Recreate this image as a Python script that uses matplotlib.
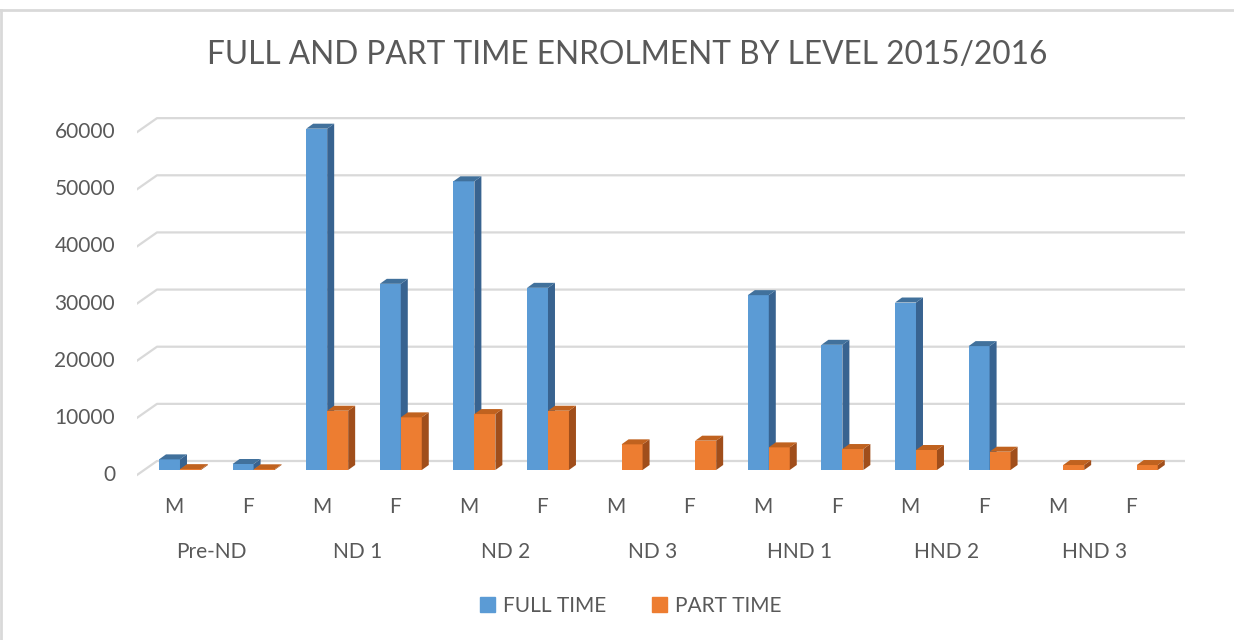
import matplotlib.pyplot as plt
from matplotlib.patches import Patch, Polygon
from matplotlib.lines import Line2D

levels = ['Pre-ND', 'ND 1', 'ND 2', 'ND 3', 'HND 1', 'HND 2', 'HND 3']
sexes = ['M', 'F']
full_time = [1860, 1050, 59730, 32580, 50520, 31880, 0, 0,
             30600, 21910, 29310, 21680, 0, 0]
part_time = [150, 120, 10370, 9210, 9790, 10370, 4490, 5130,
             3960, 3670, 3500, 3200, 870, 870]
y_ticks = [0, 10000, 20000, 30000, 40000, 50000, 60000]

plt.rcParams['font.family'] = ['Lato', 'DejaVu Sans']
txt = '#595959'

fig = plt.figure(figsize=(12.34, 6.4), dpi=100)
ax = fig.add_axes([137 / 1234, 1 - 478 / 640, (1185 - 137) / 1234, (478 - 112) / 640])
xmin, xmax = -0.584, 13.655
ymin, ymax = -1400, 62650
ax.set_xlim(xmin, xmax)
ax.set_ylim(ymin, ymax)
ax.axis('off')

# pixel -> data helpers for the fake 3d offsets
px_x = (xmax - xmin) / (1185 - 137)
px_y = (ymax - ymin) / (478 - 112)

# back wall grid + little diagonals on the left
for v in y_ticks:
    fy, by = v - 5 * px_y, v + 9 * px_y
    bx = xmin + 20 * px_x
    ax.add_line(Line2D([xmin, bx, xmax], [fy, by, by], color='#d9d9d9', lw=1.6, zorder=0))
    ax.text(xmin - 22 * px_x, fy, str(v), ha='right', va='center', color=txt, fontsize=15)

w = 0.285
dx, dy = 7 * px_x, 5 * px_y


def bar3d(x0, h, front, side, top):
    if h <= 0:
        return
    ax.bar(x0, h, width=w, align='edge', color=front, zorder=3)
    x1 = x0 + w
    ax.add_patch(Polygon([(x1, 0), (x1 + dx, dy), (x1 + dx, h + dy), (x1, h)],
                         closed=True, facecolor=side, edgecolor='none', zorder=3))
    ax.add_patch(Polygon([(x0, h), (x0 + dx, h + dy), (x1 + dx, h + dy), (x1, h)],
                         closed=True, facecolor=top, edgecolor='none', zorder=3))


for i in range(len(full_time)):
    bar3d(i - w, full_time[i], '#5b9bd5', '#386390', '#41719c')
    bar3d(i, part_time[i], '#ed7d31', '#a04e1b', '#c0621f')

# category labels
for i in range(len(full_time)):
    ax.text(i - 0.08, -6475, sexes[i % 2], ha='center', va='center', color=txt,
            fontsize=15, clip_on=False)
for k, lev in enumerate(levels):
    ax.text(2 * k + 0.5 - 0.08, -14350, lev, ha='center', va='center', color=txt,
            fontsize=15, clip_on=False)

fig.text(627 / 1234, 1 - 55 / 640, 'FULL AND PART TIME ENROLMENT BY LEVEL 2015/2016',
         ha='center', va='center', color=txt, fontsize=22.8)

handles = [Patch(color='#5b9bd5', label='FULL TIME'), Patch(color='#ed7d31', label='PART TIME')]
leg = fig.legend(handles=handles, loc='center', bbox_to_anchor=(631 / 1234, 1 - 606 / 640),
                 ncol=2, frameon=False, fontsize=15, handlelength=0.7, handleheight=0.7,
                 columnspacing=2.2, handletextpad=0.4)
for t in leg.get_texts():
    t.set_color(txt)

# chart border
fig.add_artist(Line2D([0, 1], [1 - 10 / 640, 1 - 10 / 640], color='#d9d9d9', lw=2))
fig.add_artist(Line2D([1 / 1234, 1 / 1234], [0, 1 - 10 / 640], color='#d9d9d9', lw=2))

fig.savefig('out.png', dpi=100)
